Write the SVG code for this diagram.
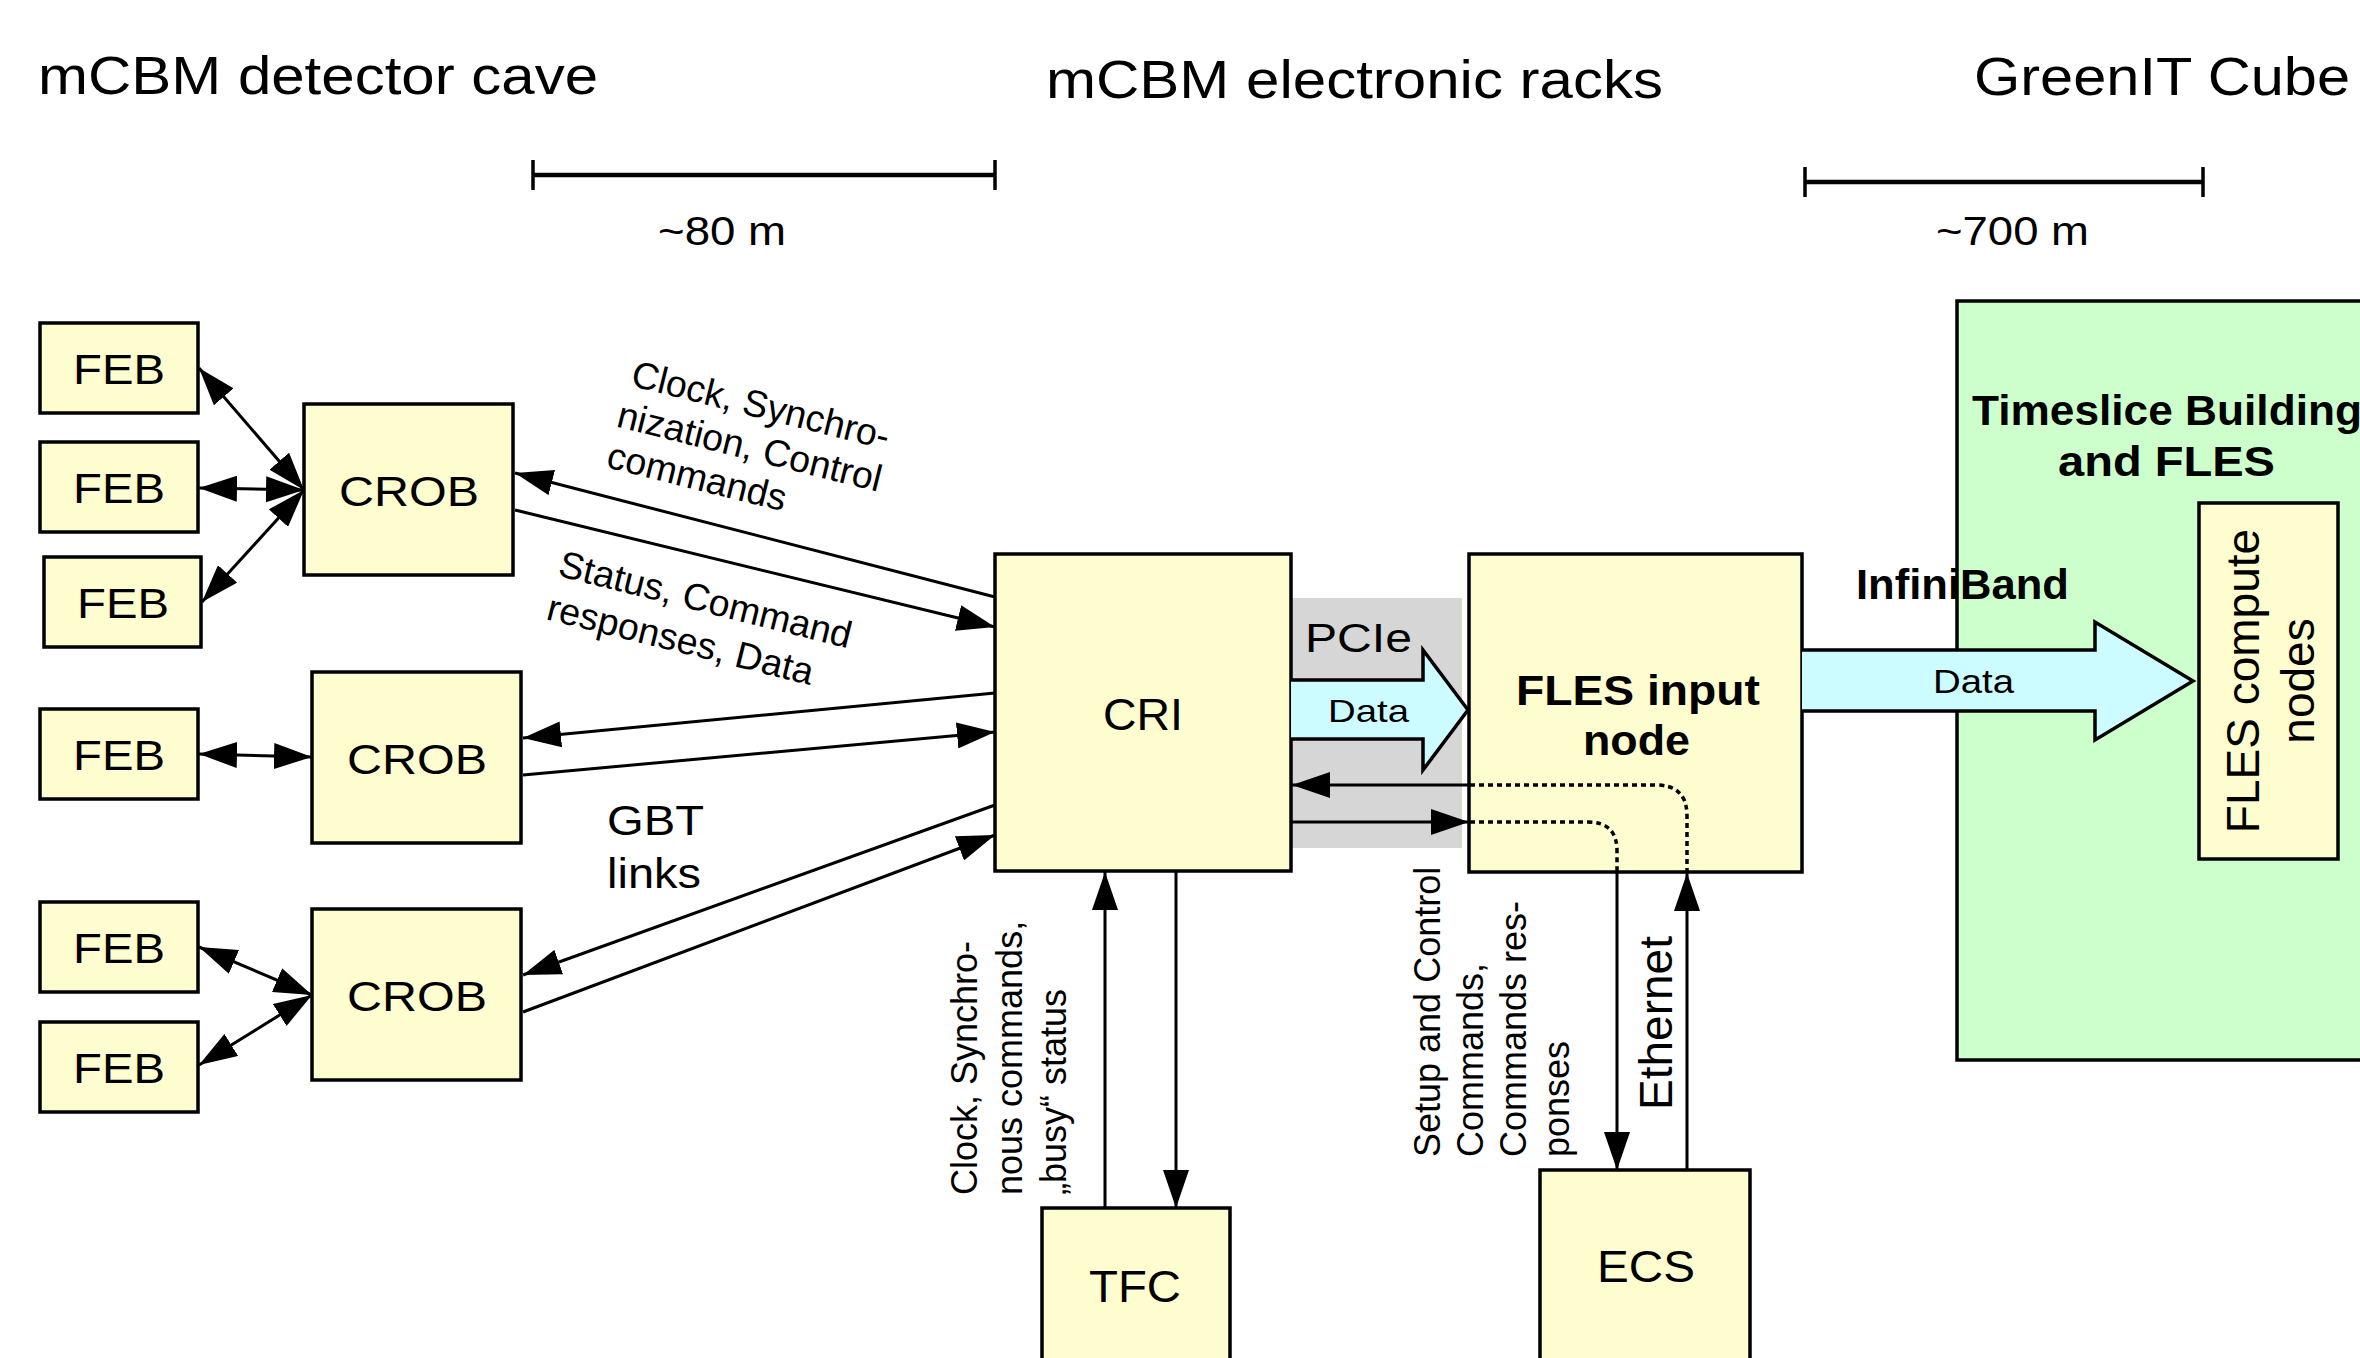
<svg xmlns="http://www.w3.org/2000/svg" width="2360" height="1358" viewBox="0 0 2360 1358">
<defs>
<style>
.box{fill:#fdfdcf;stroke:#000;stroke-width:3.5}
.t{font-family:"Liberation Sans",Arial,sans-serif;fill:#000}
.b{font-weight:bold}
.ln{fill:none;stroke:#000;stroke-width:3}
.dot{fill:none;stroke:#000;stroke-width:3.5;stroke-dasharray:5 4}
.big{fill:#ccfcff;stroke:#000;stroke-width:3.5;stroke-linejoin:miter}
</style>
<marker id="ah" markerUnits="userSpaceOnUse" markerWidth="38" markerHeight="26" refX="38" refY="13" orient="auto-start-reverse">
<path d="M0,0 L38,13 L0,26 z" fill="#000"/>
</marker>
</defs>
<rect width="2360" height="1358" fill="#fff"/>

<g id="headers">
<text class="t" x="38" y="94" font-size="53" textLength="560" lengthAdjust="spacingAndGlyphs">mCBM detector cave</text>
<text class="t" x="1046" y="98" font-size="53" textLength="617" lengthAdjust="spacingAndGlyphs">mCBM electronic racks</text>
<text class="t" x="1974" y="95" font-size="53" textLength="376" lengthAdjust="spacingAndGlyphs">GreenIT Cube</text>
</g>

<g id="scale-80m">
<path d="M533,175 H995" stroke="#000" stroke-width="4.5" fill="none"/>
<path d="M533,160 V190 M995,160 V190" stroke="#000" stroke-width="3.5" fill="none"/>
<text class="t" x="658" y="245" font-size="41" textLength="128" lengthAdjust="spacingAndGlyphs">~80 m</text>
</g>
<g id="scale-700m">
<path d="M1805,182 H2203" stroke="#000" stroke-width="4.5" fill="none"/>
<path d="M1805,167 V197 M2203,167 V197" stroke="#000" stroke-width="3.5" fill="none"/>
<text class="t" x="1936" y="245" font-size="41" textLength="153" lengthAdjust="spacingAndGlyphs">~700 m</text>
</g>

<g id="greenit">
<rect x="1957" y="301" width="430" height="759" fill="#ccffcc" stroke="#000" stroke-width="3.5"/>
<text class="t b" x="1972" y="425" font-size="42" textLength="390" lengthAdjust="spacingAndGlyphs">Timeslice Building</text>
<text class="t b" x="2058" y="476" font-size="42" textLength="217" lengthAdjust="spacingAndGlyphs">and FLES</text>
</g>

<g id="pcie-band">
<rect x="1291" y="598" width="171" height="250" fill="#d6d6d6"/>
</g>

<g id="feb1"><rect class="box" x="40" y="323" width="158" height="90"/><text class="t" x="73" y="384" font-size="43" textLength="92" lengthAdjust="spacingAndGlyphs">FEB</text></g>
<g id="feb2"><rect class="box" x="40" y="442" width="158" height="90"/><text class="t" x="73" y="503" font-size="43" textLength="92" lengthAdjust="spacingAndGlyphs">FEB</text></g>
<g id="feb3"><rect class="box" x="44" y="557" width="157" height="90"/><text class="t" x="77" y="618" font-size="43" textLength="92" lengthAdjust="spacingAndGlyphs">FEB</text></g>
<g id="feb4"><rect class="box" x="40" y="709" width="158" height="90"/><text class="t" x="73" y="770" font-size="43" textLength="92" lengthAdjust="spacingAndGlyphs">FEB</text></g>
<g id="feb5"><rect class="box" x="40" y="902" width="158" height="90"/><text class="t" x="73" y="963" font-size="43" textLength="92" lengthAdjust="spacingAndGlyphs">FEB</text></g>
<g id="feb6"><rect class="box" x="40" y="1022" width="158" height="90"/><text class="t" x="73" y="1083" font-size="43" textLength="92" lengthAdjust="spacingAndGlyphs">FEB</text></g>

<g id="crob1"><rect class="box" x="304" y="404" width="209" height="171"/><text class="t" x="339" y="506" font-size="43" textLength="140" lengthAdjust="spacingAndGlyphs">CROB</text></g>
<g id="crob2"><rect class="box" x="312" y="672" width="209" height="171"/><text class="t" x="347" y="774" font-size="43" textLength="140" lengthAdjust="spacingAndGlyphs">CROB</text></g>
<g id="crob3"><rect class="box" x="312" y="909" width="209" height="171"/><text class="t" x="347" y="1011" font-size="43" textLength="140" lengthAdjust="spacingAndGlyphs">CROB</text></g>

<g id="cri"><rect class="box" x="995" y="554" width="296" height="317"/><text class="t" x="1103" y="730" font-size="44" textLength="80" lengthAdjust="spacingAndGlyphs">CRI</text></g>

<g id="fles-input"><rect class="box" x="1469" y="554" width="333" height="318"/>
<text class="t b" x="1516" y="705" font-size="42" textLength="244" lengthAdjust="spacingAndGlyphs">FLES input</text>
<text class="t b" x="1583" y="755" font-size="42" textLength="107" lengthAdjust="spacingAndGlyphs">node</text></g>

<g id="tfc"><rect class="box" x="1042" y="1208" width="188" height="180"/><text class="t" x="1089" y="1302" font-size="44" textLength="92" lengthAdjust="spacingAndGlyphs">TFC</text></g>

<g id="ecs"><rect class="box" x="1540" y="1170" width="210" height="220"/><text class="t" x="1597" y="1282" font-size="44" textLength="98" lengthAdjust="spacingAndGlyphs">ECS</text></g>

<g id="fles-compute"><rect class="box" x="2199" y="503" width="139" height="356"/>
<text class="t" transform="translate(2259,681) rotate(-90)" text-anchor="middle" font-size="46">FLES compute</text>
<text class="t" transform="translate(2314,681) rotate(-90)" text-anchor="middle" font-size="46">nodes</text></g>

<g id="connectors">
<path class="big" d="M1291,680 H1423 V650 L1468,710 L1423,770 V739 H1291"/>
<path class="big" d="M1802,650 H2095 V622 L2193,681 L2095,740 V711 H1802"/>
<path class="ln" d="M199,368 L304,490" marker-start="url(#ah)" marker-end="url(#ah)"/>
<path class="ln" d="M199,488 L304,490" marker-start="url(#ah)" marker-end="url(#ah)"/>
<path class="ln" d="M202,602 L304,490" marker-start="url(#ah)" marker-end="url(#ah)"/>
<path class="ln" d="M199,754 L312,757" marker-start="url(#ah)" marker-end="url(#ah)"/>
<path class="ln" d="M199,947 L312,995" marker-start="url(#ah)" marker-end="url(#ah)"/>
<path class="ln" d="M199,1065 L312,995" marker-start="url(#ah)" marker-end="url(#ah)"/>
<path class="ln" d="M995,597 L515,473" marker-end="url(#ah)"/>
<path class="ln" d="M515,510 L995,627" marker-end="url(#ah)"/>
<path class="ln" d="M995,693 L523,738" marker-end="url(#ah)"/>
<path class="ln" d="M523,775 L995,732" marker-end="url(#ah)"/>
<path class="ln" d="M995,805 L523,975" marker-end="url(#ah)"/>
<path class="ln" d="M523,1012 L995,835" marker-end="url(#ah)"/>
<path class="ln" d="M1469,785 L1292,785" marker-end="url(#ah)"/>
<path class="ln" d="M1292,822 L1469,822" marker-end="url(#ah)"/>
<path class="dot" d="M1470,785 H1656 Q1687,785 1687,816 V872"/>
<path class="dot" d="M1470,822 H1588 Q1617,822 1617,851 V872"/>
<path class="ln" d="M1687,1170 V873" marker-end="url(#ah)"/>
<path class="ln" d="M1617,872 V1170" marker-end="url(#ah)"/>
<path class="ln" d="M1105,1208 V872" marker-end="url(#ah)"/>
<path class="ln" d="M1176,871 V1208" marker-end="url(#ah)"/>
</g>

<g id="labels">
<text class="t" x="1305" y="652" font-size="40" textLength="107" lengthAdjust="spacingAndGlyphs">PCIe</text>
<text class="t" x="1328" y="722" font-size="32" textLength="81" lengthAdjust="spacingAndGlyphs">Data</text>
<text class="t b" x="1856" y="599" font-size="42" textLength="213" lengthAdjust="spacingAndGlyphs">InfiniBand</text>
<text class="t" x="1933" y="693" font-size="34" textLength="81" lengthAdjust="spacingAndGlyphs">Data</text>
<text class="t" x="607" y="835" font-size="42" textLength="97" lengthAdjust="spacingAndGlyphs">GBT</text>
<text class="t" x="607" y="888" font-size="42" textLength="94" lengthAdjust="spacingAndGlyphs">links</text>
<g transform="translate(700,400) rotate(14)" class="t" font-size="37.5">
<text class="t" x="-72" y="3">Clock, Synchro-</text>
<text class="t" x="-76" y="46">nization, Control</text>
<text class="t" x="-76" y="88">commands</text>
</g>
<g transform="translate(560,563) rotate(14)" font-size="37.5">
<text class="t" x="0" y="13">Status, Command</text>
<text class="t" x="-1" y="58">responses, Data</text>
</g>
<g font-size="36">
<text class="t" transform="translate(977,1195) rotate(-90)">Clock, Synchro-</text>
<text class="t" transform="translate(1022,1195) rotate(-90)">nous commands,</text>
<text class="t" transform="translate(1066,1195) rotate(-90)">„busy“ status</text>
</g>
<g font-size="36">
<text class="t" transform="translate(1440,1157) rotate(-90)">Setup and Control</text>
<text class="t" transform="translate(1483,1157) rotate(-90)">Commands,</text>
<text class="t" transform="translate(1526,1157) rotate(-90)">Commands res-</text>
<text class="t" transform="translate(1569,1157) rotate(-90)">ponses</text>
</g>
<text class="t" transform="translate(1672,1023) rotate(-90)" text-anchor="middle" font-size="46">Ethernet</text>
</g>
</svg>
